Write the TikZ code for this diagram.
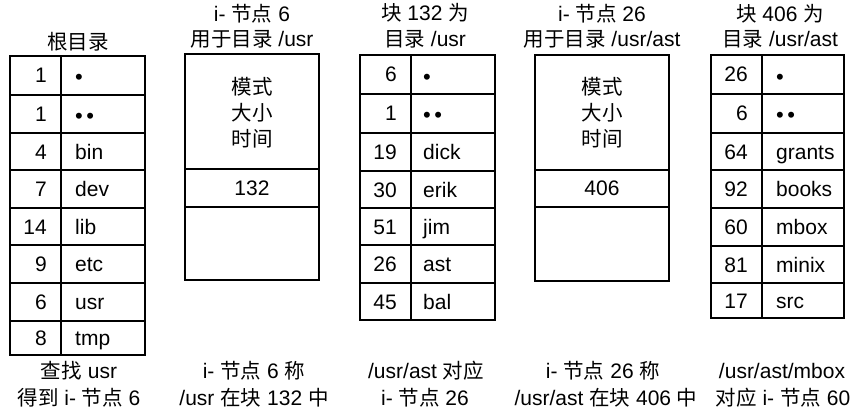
\documentclass[tikz,border=0pt]{standalone}
\usepackage{fontspec}
\setmainfont{Liberation Sans}
\newfontfamily\cjkfont{Noto Sans CJK SC}
\newcommand\zh[1]{{\cjkfont\fontsize{20.5}{24}\selectfont #1}}
\newcommand\onedot{{\fontsize{22}{24}\selectfont\raisebox{-2pt}{\textbullet}}}
\newcommand\twodot{{\fontsize{22}{24}\selectfont\raisebox{-2pt}{\textbullet\hspace{3.5pt}\textbullet}}}
\tikzset{
  gridline/.style={line width=2.8pt, line cap=rect},
  txt/.style={anchor=base, inner sep=0pt, font=\fontsize{21}{25}\selectfont},
  num/.style={anchor=base east, inner sep=0pt, font=\fontsize{21}{25}\selectfont},
  nm/.style={anchor=base west, inner sep=0pt, font=\fontsize{21}{25}\selectfont},
}
\begin{document}
\begin{tikzpicture}[x=1pt,y=-1pt]
\useasboundingbox (0,0) rectangle (856,409);
% ---------- root directory ----------
\node[txt] (rt) at (78,49.5) {\zh{根目录}};
\draw[gridline] (10,56) rectangle (145,355);
\draw[gridline] (61,56) -- (61,355);
\foreach \y in {95,133,170,208,245,283,321} \draw[gridline] (10,\y) -- (145,\y);
\foreach \n/\s/\c [count=\i] in {1/\onedot/75.5,1/\twodot/114,4/bin/151.5,7/dev/189,14/lib/226.5,9/etc/264,6/usr/302,8/tmp/338} {
  \node[num] (rn\i) at (47,\c+7.5) {\n};
  \node[nm] (rs\i) at (75,\c+7.5) {\s};
}
\node[txt] (rb1) at (79,378.5) {\zh{查找} usr};
\node[txt] (rb2) at (79,405.5) {\zh{得到} i- \zh{节点} 6};
% ---------- i-node 6 ----------
\node[txt] (it1) at (252,21.5) {i- \zh{节点} 6};
\node[txt] (it2) at (252,46.5) {\zh{用于目录} /usr};
\draw[gridline] (185,54) rectangle (319,280);
\draw[gridline] (185,169) -- (319,169);
\draw[gridline] (185,207) -- (319,207);
\node[txt] (im1) at (252,94.5) {\zh{模式}};
\node[txt] (im2) at (252,120.5) {\zh{大小}};
\node[txt] (im3) at (252,146.5) {\zh{时间}};
\node[txt] (iblk) at (252,195.5) {132};
\node[txt] (ib1) at (254,378.5) {i- \zh{节点} 6 \zh{称}};
\node[txt] (ib2) at (254,405.5) {/usr \zh{在块} 132 \zh{中}};
% ---------- block 132 ----------
\node[txt] (bt1) at (425,20.5) {\zh{块} 132 \zh{为}};
\node[txt] (bt2) at (425,46.5) {\zh{目录} /usr};
\draw[gridline] (360,55) rectangle (495,320);
\draw[gridline] (411,55) -- (411,320);
\foreach \y in {94,133,171,208,245,283} \draw[gridline] (360,\y) -- (495,\y);
\foreach \n/\s/\c [count=\i] in {6/\onedot/74.5,1/\twodot/113.5,19/dick/152,30/erik/189.5,51/jim/226.5,26/ast/264,45/bal/301.5} {
  \node[num] (bn\i) at (397,\c+7.5) {\n};
  \node[nm] (bs\i) at (423,\c+7.5) {\s};
}
\node[txt] (bb1) at (426,378.5) {/usr/ast \zh{对应}};
\node[txt] (bb2) at (425,405.5) {i- \zh{节点} 26};
% ---------- i-node 26 ----------
\node[txt] (jt1) at (602,21.5) {i- \zh{节点} 26};
\node[txt] (jt2) at (602,46.5) {\zh{用于目录} /usr/ast};
\draw[gridline] (535,55) rectangle (669,281);
\draw[gridline] (535,170) -- (669,170);
\draw[gridline] (535,207) -- (669,207);
\node[txt] (jm1) at (602,94.5) {\zh{模式}};
\node[txt] (jm2) at (602,120.5) {\zh{大小}};
\node[txt] (jm3) at (602,146.5) {\zh{时间}};
\node[txt] (jblk) at (602,195.5) {406};
\node[txt] (jb1) at (603,378.5) {i- \zh{节点} 26 \zh{称}};
\node[txt] (jb2) at (606,405.5) {/usr/ast \zh{在块} 406 \zh{中}};
% ---------- block 406 ----------
\node[txt] (ct1) at (780,21.5) {\zh{块} 406 \zh{为}};
\node[txt] (ct2) at (780,46.5) {\zh{目录} /usr/ast};
\draw[gridline] (711,55) rectangle (844,318);
\draw[gridline] (762,55) -- (762,318);
\foreach \y in {94,133,170,208,246,283} \draw[gridline] (711,\y) -- (844,\y);
\foreach \n/\s/\c [count=\i] in {26/\onedot/74.5,6/\twodot/113.5,64/grants/151.5,92/books/189,60/mbox/227,81/minix/264.5,17/src/300.5} {
  \node[num] (cn\i) at (748,\c+7.5) {\n};
  \node[nm] (cs\i) at (776,\c+7.5) {\s};
}
\node[txt] (cb1) at (782,378.5) {/usr/ast/mbox};
\node[txt] (cb2) at (783,405.5) {\zh{对应} i- \zh{节点} 60};
\end{tikzpicture}
\end{document}
